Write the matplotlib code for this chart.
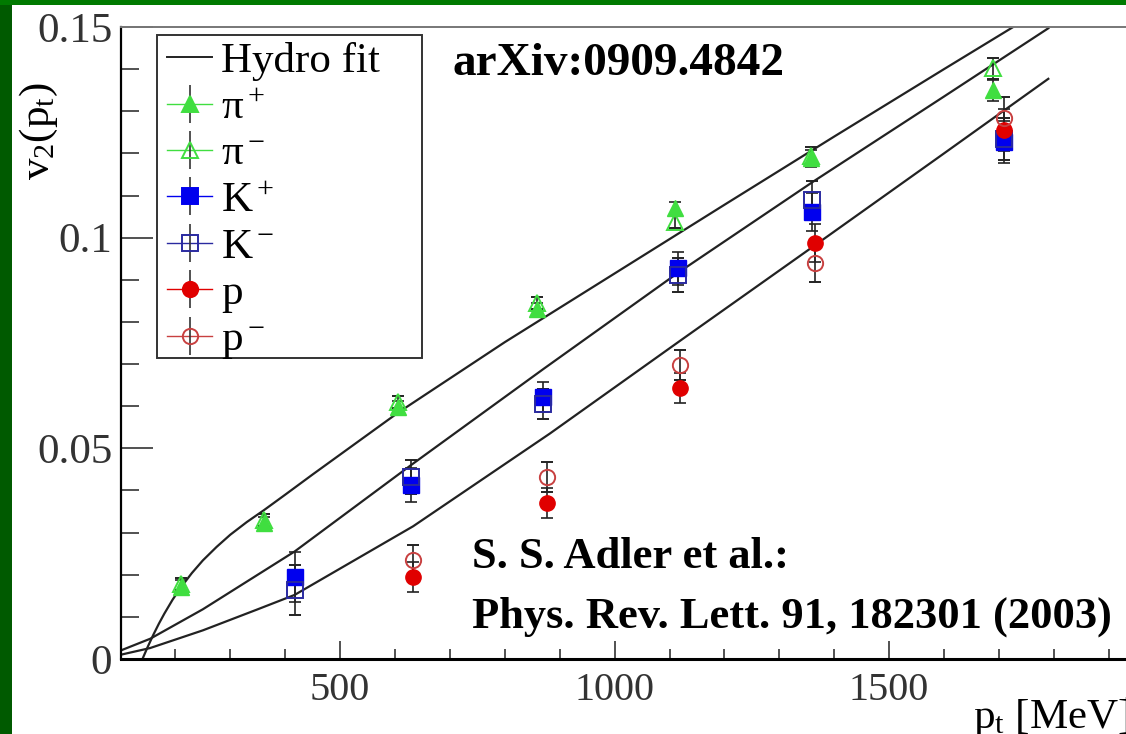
import matplotlib
matplotlib.use('Agg')
import matplotlib.pyplot as plt
from matplotlib.lines import Line2D
from matplotlib.patches import Rectangle
from matplotlib.legend_handler import HandlerTuple
from matplotlib.ticker import MultipleLocator

plt.rcParams['font.family'] = ['Liberation Serif', 'DejaVu Serif']
plt.rcParams['mathtext.fontset'] = 'stix'

# measured points, pt in MeV
pi_pt = [210, 361, 605, 858, 1110, 1358, 1689]
pip_v2 = [0.0172, 0.0323, 0.0598, 0.0830, 0.1070, 0.1188, 0.1350]
pim_v2 = [0.0178, 0.0330, 0.0610, 0.0845, 0.1038, 0.1195, 0.1402]
pi_err = [0.0015, 0.0015, 0.0015, 0.0015, 0.0015, 0.0020, 0.0025]

k_pt = [417, 629, 870, 1115, 1360, 1709]
kp_v2 = [0.0195, 0.0413, 0.0622, 0.0927, 0.1062, 0.1228]
km_v2 = [0.0164, 0.0432, 0.0605, 0.0911, 0.1090, 0.1235]
k_err = [0.0060, 0.0040, 0.0035, 0.0040, 0.0045, 0.0050]

p_pt = [633, 876, 1119, 1365, 1709]
pp_v2 = [0.0195, 0.0370, 0.0643, 0.0988, 0.1256]
pm_v2 = [0.0235, 0.0432, 0.0698, 0.0939, 0.1283]
p_err = [0.0035, 0.0035, 0.0035, 0.0045, 0.0050]

# hydro fit curves
fit_pi_pt = [140, 150, 160, 170, 180, 195, 210, 230, 250, 275, 300, 330, 361, 400, 450,
             606, 800, 1000, 1200, 1400, 1600, 1726]
fit_pi_v2 = [0.0, 0.0030, 0.0058, 0.0084, 0.0108, 0.0141, 0.0170, 0.0204, 0.0234, 0.0266,
             0.0295, 0.0325, 0.0353, 0.0390, 0.0438, 0.0585, 0.0752, 0.0915, 0.1078,
             0.1240, 0.1400, 0.1500]
fit_k_pt = [100, 154, 250, 417, 629, 870, 1117, 1364, 1600, 1790]
fit_k_v2 = [0.0020, 0.0048, 0.0118, 0.0255, 0.0460, 0.0688, 0.0918, 0.1135, 0.1335, 0.1497]
fit_p_pt = [100, 154, 250, 350, 417, 633, 882, 1119, 1365, 1600, 1790]
fit_p_v2 = [0.0010, 0.0026, 0.0068, 0.0118, 0.0152, 0.0315, 0.0535, 0.0755, 0.0982, 0.1200, 0.1377]

labels = ['Hydro fit', r'π$\mathregular{^+}$', r'π$\mathregular{^-}$', r'K$\mathregular{^+}$',
          r'K$\mathregular{^-}$', 'p', r'p$\mathregular{^-}$']

W, H = 1126, 734
fig = plt.figure(figsize=(W / 100, H / 100), dpi=100)
fig.patch.set_facecolor('#005a00')
fig.patches.append(Rectangle((0, 1 - 5 / H), 1, 5 / H, transform=fig.transFigure,
                             facecolor='#007a00', edgecolor='none', zorder=-2))
fig.patches.append(Rectangle((12 / W, 0), 1, 1 - 5 / H, transform=fig.transFigure,
                             facecolor='white', edgecolor='none', zorder=-2))

x0, x1 = 120.5, 1163.6
ytop, ybot = 27, 659
ax = fig.add_axes([x0 / W, (H - ybot) / H, (x1 - x0) / W, (ybot - ytop) / H])
ax.patch.set_alpha(0)
ax.set_xlim(100, 2000)
ax.set_ylim(0, 0.15)

for pt, v2 in [(fit_pi_pt, fit_pi_v2), (fit_k_pt, fit_k_v2), (fit_p_pt, fit_p_v2)]:
    ax.plot(pt, v2, color='#222222', lw=1.6, zorder=2)

ekw = dict(ecolor='#222222', elinewidth=1.2, capsize=4, capthick=1.2, ls='none', zorder=3)
h_pip = ax.errorbar(pi_pt, pip_v2, yerr=pi_err, marker='^', ms=12, mfc='#40de40', mec='#40de40', **ekw)
h_pim = ax.errorbar(pi_pt, pim_v2, yerr=pi_err, marker='^', ms=12, mfc='none', mec='#40de40', mew=1.4, **ekw)
h_kp = ax.errorbar(k_pt, kp_v2, yerr=k_err, marker='s', ms=11, mfc='#0000ee', mec='#0000ee', **ekw)
h_km = ax.errorbar(k_pt, km_v2, yerr=k_err, marker='s', ms=11, mfc='none', mec='#2a2aa0', mew=1.4, **ekw)
h_pp = ax.errorbar(p_pt, pp_v2, yerr=p_err, marker='o', ms=11, mfc='#e00000', mec='#e00000', **ekw)
h_pm = ax.errorbar(p_pt, pm_v2, yerr=p_err, marker='o', ms=11, mfc='none', mec='#c84040', mew=1.4, **ekw)

# axes styling
ax.xaxis.set_major_locator(MultipleLocator(500))
ax.xaxis.set_minor_locator(MultipleLocator(100))
ax.yaxis.set_minor_locator(MultipleLocator(0.01))
ax.set_yticks([0, 0.05, 0.1, 0.15])
ax.set_yticklabels(['0', '0.05', '0.1', '0.15'])
ax.tick_params(axis='both', which='both', direction='in', colors='#333333', width=1.2)
ax.tick_params(axis='x', which='major', length=13, labelsize=29, pad=9)
ax.tick_params(axis='x', which='minor', length=7)
ax.tick_params(axis='y', which='major', length=23, labelsize=31, pad=6)
ax.tick_params(axis='y', which='minor', length=13)
ax.spines['bottom'].set_linewidth(2.2)
ax.spines['left'].set_linewidth(1.6)
ax.spines['top'].set_linewidth(1.4)
ax.spines['top'].set_color('#777777')
ax.spines['right'].set_visible(False)

fig.text(39 / W, 1 - 131 / H, r'v$\mathregular{_2}$(p$\mathregular{_t}$)', rotation=90,
         ha='center', va='center', fontsize=31)
fig.text(973 / W, 1 - 728 / H, r'p$\mathregular{_t}$ [MeV]', ha='left', va='baseline', fontsize=31)

fig.text(452 / W, 1 - 75 / H, 'arXiv:0909.4842', fontsize=34, fontweight='bold',
         ha='left', va='baseline')
fig.text(472 / W, 1 - 568 / H, 'S. S. Adler et al.:', fontsize=32, fontweight='bold',
         ha='left', va='baseline')
fig.text(472 / W, 1 - 628 / H, 'Phys. Rev. Lett. 91, 182301 (2003)', fontsize=32,
         fontweight='bold', ha='left', va='baseline')

# legend, box drawn separately
fig.patches.append(Rectangle((157 / W, 1 - 358 / H), (422 - 157) / W, (358 - 35) / H,
                             transform=fig.transFigure, facecolor='white',
                             edgecolor='#333333', lw=1.4, zorder=4))
handles = [Line2D([], [], color='#222222', lw=1.4)]
styles = [('^', '#40de40', '#40de40'), ('^', 'none', '#40de40'), ('s', '#0000ee', '#0000ee'),
          ('s', 'none', '#2a2aa0'), ('o', '#e00000', '#e00000'), ('o', 'none', '#c84040')]
for m, fc, ec in styles:
    hline = Line2D([], [], color=ec, lw=1.0)
    vbar = Line2D([], [], marker='|', ms=28, mew=1.2, color='#333333', ls='none')
    mk = Line2D([], [], marker=m, ms=11, mfc=fc, mec=ec, mew=1.4, ls='none')
    handles.append((hline, vbar, mk))
leg = fig.legend(handles, labels, loc='upper left', bbox_to_anchor=(167 / W, 1 - 42 / H),
                 fontsize=31, frameon=False, borderpad=0, labelspacing=0.17,
                 handlelength=1.05, handletextpad=0.2, borderaxespad=0,
                 handler_map={tuple: HandlerTuple(ndivide=1)})
leg.set_zorder(5)

fig.savefig('out.png', dpi=100, facecolor=fig.get_facecolor())
